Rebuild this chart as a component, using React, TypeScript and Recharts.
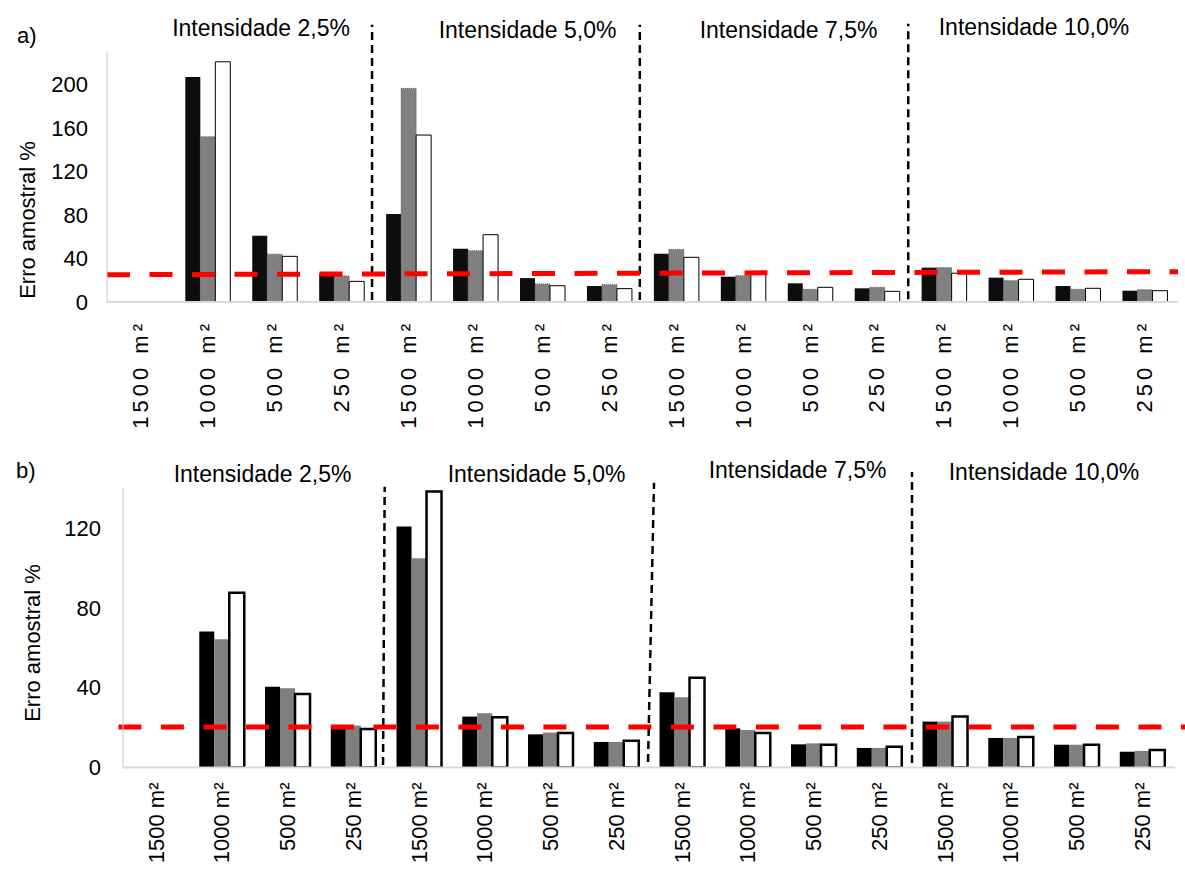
import React from 'react';
import { BarChart, Bar, XAxis, YAxis, ReferenceLine } from 'recharts';

const intensities = ['Intensidade 2,5%', 'Intensidade 5,0%', 'Intensidade 7,5%', 'Intensidade 10,0%'];
const plotSizes = ['1500 m²', '1000 m²', '500 m²', '250 m²'];

// a) erro amostral, three bars per plot size, grouped by intensity
const aSerie1 = [0, 207, 61, 26, 81, 49, 22, 14.7, 44.4, 23.3, 17.2, 12.6, 31.6, 22.4, 14.7, 10.4];
const aSerie2 = [0, 152, 44, 24, 196.5, 47.2, 16.6, 15.9, 48.4, 24.2, 11.7, 13.5, 31.6, 19.6, 11.7, 11.3];
const aSerie3 = [0, 221, 42, 19, 153.6, 61.9, 15, 12.3, 41.1, 27, 13.5, 9.8, 26.5, 20.9, 12.6, 10.4];
const aLimite = [25.1, 27.9];
const aTicks = [0, 40, 80, 120, 160, 200];

// b)
const bSerie1 = [0, 68.1, 40.4, 20.5, 120.7, 25.5, 16.6, 12.8, 37.7, 19.6, 11.6, 9.8, 23, 14.8, 11.4, 7.9];
const bSerie2 = [0, 64.2, 39.7, 21, 104.8, 27.2, 17.5, 12.8, 35.2, 18.8, 12.1, 9.8, 23, 14.8, 11.4, 8.3];
const bSerie3 = [0, 87.5, 36.8, 19.3, 138.2, 25.2, 17.3, 13.4, 44.9, 17.3, 11.4, 10.4, 25.5, 15.3, 11.4, 8.8];
const bLimite = [20.3, 20.3];
const bTicks = [0, 40, 80, 120];

const FONT = "'Liberation Sans', Arial, sans-serif";

function buildRows(s1: number[], s2: number[], s3: number[]) {
  return intensities.flatMap((_, i) =>
    plotSizes.map((size, j) => {
      const k = i * plotSizes.length + j;
      // pos: slot centre on a 0..16 number scale, used for the dashed overlays
      return { key: `${size}|${i}`, pos: k + 0.5, s1: s1[k], s2: s2[k], s3: s3[k] };
    })
  );
}

const rowsA = buildRows(aSerie1, aSerie2, aSerie3);
const rowsB = buildRows(bSerie1, bSerie2, bSerie3);

function SizeTick(props: any) {
  const { x, y, payload, spacing } = props;
  const label = String(payload.value).split('|')[0];
  return (
    <text
      x={x}
      y={y}
      transform={`rotate(-90 ${x} ${y})`}
      textAnchor="end"
      dy="0.35em"
      fontSize={22}
      fontFamily={FONT}
      letterSpacing={spacing}
      fill="#000"
    >
      {label}
    </text>
  );
}

type Divider = { x0: number; y0: number; x1: number; y1: number };

interface PanelProps {
  rows: any[];
  letter: string;
  ticks: number[];
  yMax: number;
  plotTop: number;
  plotRight: number;
  yAxisWidth: number;
  xAxisHeight: number;
  tickMargin: number;
  xTickMargin: number;
  letterSpacing: number;
  gap: string;
  titles: { x: number; y: number }[];
  letterPos: { x: number; y: number };
  yLabel: { x: number; y: number };
  limite: number[];
  limiteX: [number, number];
  dividers: Divider[];
  fills: { s1: string; s2: string };
  s2Stroke?: string;
  s3StrokeWidth: number;
}

function Panel(p: PanelProps) {
  return (
    <BarChart
      width={1185}
      height={435}
      data={p.rows}
      margin={{ top: p.plotTop, right: p.plotRight, bottom: 0, left: 0 }}
      barCategoryGap={p.gap}
      barGap={0}
    >
      <XAxis
        dataKey="key"
        interval={0}
        height={p.xAxisHeight}
        tickLine={false}
        tickSize={0}
        tickMargin={p.xTickMargin}
        axisLine={{ stroke: '#d9d9d9', strokeWidth: 2 }}
        tick={<SizeTick spacing={p.letterSpacing} />}
      />
      <XAxis xAxisId="pos" dataKey="pos" type="number" domain={[0, 16]} allowDataOverflow hide />
      <YAxis
        width={p.yAxisWidth}
        domain={[0, p.yMax]}
        ticks={p.ticks}
        allowDataOverflow
        tickLine={false}
        tickSize={0}
        tickMargin={p.tickMargin}
        axisLine={{ stroke: '#c8c8c8', strokeWidth: 1 }}
        tick={{ fontSize: 22, fill: '#000', fontFamily: FONT }}
      />
      <Bar dataKey="s1" fill={p.fills.s1} isAnimationActive={false} />
      <Bar
        dataKey="s2"
        fill={p.fills.s2}
        stroke={p.s2Stroke}
        strokeWidth={p.s2Stroke ? 1 : 0}
        strokeDasharray={p.s2Stroke ? '1 1' : undefined}
        isAnimationActive={false}
      />
      <Bar dataKey="s3" fill="#ffffff" stroke="#000" strokeWidth={p.s3StrokeWidth} isAnimationActive={false} />

      {p.dividers.map((d, i) => (
        <ReferenceLine
          key={`div-${i}`}
          xAxisId="pos"
          ifOverflow="visible"
          segment={[
            { x: d.x0, y: d.y0 },
            { x: d.x1, y: d.y1 },
          ]}
          stroke="#000"
          strokeWidth={2.5}
          strokeDasharray="8 5"
        />
      ))}
      <ReferenceLine
        xAxisId="pos"
        ifOverflow="visible"
        segment={[
          { x: p.limiteX[0], y: p.limite[0] },
          { x: p.limiteX[1], y: p.limite[1] },
        ]}
        stroke="#ff0000"
        strokeWidth={5}
        strokeDasharray="23 19.5"
      />

      {intensities.map((t, i) => (
        <text
          key={t}
          x={p.titles[i].x}
          y={p.titles[i].y}
          textAnchor="middle"
          fontSize={23}
          fontFamily={FONT}
          fill="#000"
        >
          {t}
        </text>
      ))}
      <text x={p.letterPos.x} y={p.letterPos.y} fontSize={22} fontFamily={FONT} fill="#000">
        {p.letter}
      </text>
      <text
        x={p.yLabel.x}
        y={p.yLabel.y}
        transform={`rotate(-90 ${p.yLabel.x} ${p.yLabel.y})`}
        textAnchor="middle"
        dy="0.35em"
        fontSize={22}
        fontFamily={FONT}
        fill="#000"
      >
        Erro amostral %
      </text>
    </BarChart>
  );
}

export default function App() {
  return (
    <div style={{ position: 'absolute', left: 0, top: 0, width: 1185, height: 870, background: '#fff' }}>
      <Panel
        rows={rowsA}
        letter="a)"
        ticks={aTicks}
        yMax={230}
        plotTop={52}
        plotRight={7}
        yAxisWidth={107}
        xAxisHeight={133}
        tickMargin={19}
        xTickMargin={18}
        letterSpacing={4}
        gap="17%"
        titles={[
          { x: 261, y: 36 },
          { x: 527.5, y: 38 },
          { x: 788.5, y: 37.5 },
          { x: 1034, y: 35 },
        ]}
        letterPos={{ x: 17, y: 42.5 }}
        yLabel={{ x: 27, y: 220 }}
        limite={aLimite}
        limiteX={[0, 16]}
        dividers={[
          { x0: 3.96, y0: 1.8, x1: 3.96, y1: 255 },
          { x0: 7.96, y0: 1.8, x1: 7.96, y1: 255 },
          { x0: 11.97, y0: 2.5, x1: 11.97, y1: 256 },
        ]}
        fills={{ s1: '#0d0d0d', s2: '#808080' }}
        s2Stroke="#5a5a5a"
        s3StrokeWidth={1}
      />
      <Panel
        rows={rowsB}
        letter="b)"
        ticks={bTicks}
        yMax={140}
        plotTop={53}
        plotRight={10}
        yAxisWidth={123}
        xAxisHeight={102.5}
        tickMargin={22}
        xTickMargin={15}
        letterSpacing={0}
        gap="16%"
        titles={[
          { x: 262.5, y: 46.7 },
          { x: 536.5, y: 46.7 },
          { x: 797.5, y: 43 },
          { x: 1044, y: 45 },
        ]}
        letterPos={{ x: 16, y: 43 }}
        yLabel={{ x: 32, y: 208 }}
        limite={bLimite}
        limiteX={[-0.07, 16.25]}
        dividers={[
          { x0: 3.955, y0: 1.3, x1: 3.98, y1: 140.6 },
          { x0: 7.985, y0: 2.8, x1: 8.076, y1: 142.6 },
          { x0: 12.0, y0: 2.3, x1: 12.0, y1: 148 },
        ]}
        fills={{ s1: '#000000', s2: '#7f7f7f' }}
        s3StrokeWidth={2.5}
      />
    </div>
  );
}
